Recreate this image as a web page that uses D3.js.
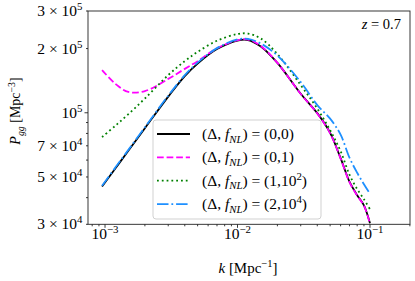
<!DOCTYPE html>
<html><head><meta charset="utf-8">
<script src="https://cdn.jsdelivr.net/npm/d3@7"></script>
<style>
body{margin:0;background:#fff}
svg{display:block}
text{font-family:"Liberation Serif","Times New Roman",serif;fill:#000}
</style>
</head><body><svg id="c" width="415" height="281"></svg>
<script>
// ---- data ----
const kValues   = [0.00095, 0.0012, 0.0015, 0.002, 0.003, 0.004, 0.005, 0.007, 0.01, 0.012, 0.015, 0.02, 0.03, 0.04, 0.05, 0.06, 0.07, 0.08, 0.09, 0.1];
const p_0_0     = [45100, 54950, 66400, 84680, 119040, 148570, 170100, 198900, 218100, 219300, 204400, 171200, 122800, 99590, 80480, 61240, 47500, 41050, 36840, 30320];
const p_0_1     = [158500, 136550, 125140, 126350, 144150, 160600, 174600, 200500, 218800, 220500, 205500, 171500, 122500, 99300, 80200, 61000, 47300, 40900, 36700, 30200];
const p_1_1e2   = [76910, 87100, 98510, 116650, 150200, 174600, 193000, 217650, 233900, 235200, 222900, 188500, 134800, 104570, 82870, 66040, 51230, 43900, 39310, 35280];
const p_2_1e4   = [45500, 55500, 67000, 85500, 120300, 150000, 171800, 201000, 221000, 222000, 211100, 185450, 139250, 108600, 93840, 78940, 61570, 52350, 46230, 41720];

const seriesNames  = ["(0,0)", "(0,1)", "(1,10^2)", "(2,10^4)"];
const seriesColors = ["#000000", "#ff00ff", "#008000", "#1e90ff"];
const seriesDashes = [null, "6.7,2.9", "1.8,3.0", "11.5,2.9,1.8,2.9"];
const seriesValues = [p_0_0, p_0_1, p_1_1e2, p_2_1e4];

const xDomain = [7.44e-4, 0.2004];
const yDomain = [3e4, 3e5];
const xMajor = [1e-3, 1e-2, 1e-1];
const xMajorExp = ["\u22123", "\u22122", "\u22121"];
const xMinor = [8e-4, 9e-4, 2e-3, 3e-3, 4e-3, 5e-3, 6e-3, 7e-3, 8e-3, 9e-3, 2e-2, 3e-2, 4e-2, 5e-2, 6e-2, 7e-2, 8e-2, 9e-2, 2e-1];
const yMajor = [1e5];
const yMinor = [3e4, 4e4, 5e4, 6e4, 7e4, 8e4, 9e4, 2e5, 3e5];
const yLabelVals = [3e4, 5e4, 7e4, 1e5, 2e5, 3e5];
const yLabelMant = ["3", "5", "7", "", "2", "3"];
const yLabelExp  = ["4", "4", "4", "5", "5", "5"];

// ---- layout ----
const L = 88, R = 410, T = 11, B = 224.3;
const FS = 15.5;
const svg = d3.select("#c");
const x = d3.scaleLog().domain(xDomain).range([L, R]);
const y = d3.scaleLog().domain(yDomain).range([B, T]);

svg.append("defs").append("clipPath").attr("id","clip")
  .append("rect").attr("x",L).attr("y",T).attr("width",R-L).attr("height",B-T);

const line = d3.line().x(d => x(d[0])).y(d => y(d[1])).curve(d3.curveCatmullRom.alpha(0.5));
const g = svg.append("g").attr("clip-path","url(#clip)");
seriesValues.forEach((vals, i) => {
  const pts = kValues.map((k, j) => [k, vals[j]]);
  g.append("path").attr("d", line(pts)).attr("fill","none")
    .attr("stroke", seriesColors[i]).attr("stroke-width", 1.8)
    .attr("stroke-dasharray", seriesDashes[i])
    .attr("stroke-linejoin","round");
});

svg.append("rect").attr("x",L).attr("y",T).attr("width",R-L).attr("height",B-T)
  .attr("fill","none").attr("stroke","#222").attr("stroke-width",0.9);

const axG = svg.append("g").attr("stroke","#222").attr("stroke-width",0.9);
xMajor.forEach(v => axG.append("line").attr("x1",x(v)).attr("x2",x(v)).attr("y1",B).attr("y2",B+3.5));
xMinor.forEach(v => axG.append("line").attr("x1",x(v)).attr("x2",x(v)).attr("y1",B).attr("y2",B+2));
yMajor.forEach(v => axG.append("line").attr("x1",L).attr("x2",L-3.5).attr("y1",y(v)).attr("y2",y(v)));
yMinor.forEach(v => axG.append("line").attr("x1",L).attr("x2",L-2).attr("y1",y(v)).attr("y2",y(v)));

xMajor.forEach((v, i) => {
  const t = svg.append("text").attr("x", x(v)).attr("y", 238.5).attr("text-anchor","middle").attr("font-size", FS);
  t.append("tspan").text("10");
  t.append("tspan").attr("dy", -6).attr("font-size", FS*0.7).text(xMajorExp[i]);
});

yLabelVals.forEach((v, i) => {
  const t = svg.append("text").attr("x", L - 5.5).attr("y", y(v) + 5).attr("text-anchor","end").attr("font-size", FS);
  t.append("tspan").text((yLabelMant[i] ? yLabelMant[i] + " \u00d7 " : "") + "10");
  t.append("tspan").attr("dy", -6).attr("font-size", FS*0.7).text(yLabelExp[i]);
});

const xl = svg.append("text").attr("x", 248).attr("y", 273).attr("text-anchor","middle").attr("font-size", 15);
xl.append("tspan").attr("font-style","italic").text("k");
xl.append("tspan").text(" [Mpc");
xl.append("tspan").attr("dy",-6).attr("font-size",15*0.7).text("\u22121");
xl.append("tspan").attr("dy",6).text("]");

const yl = svg.append("text").attr("transform",`translate(20,111) rotate(-90)`).attr("text-anchor","middle").attr("font-size", 14);
yl.append("tspan").attr("font-style","italic").text("P");
yl.append("tspan").attr("font-style","italic").attr("dy",3.5).attr("font-size",14*0.7).text("gg");
yl.append("tspan").attr("dy",-3.5).text(" [Mpc");
yl.append("tspan").attr("dy",-5.5).attr("font-size",14*0.7).text("\u22123");
yl.append("tspan").attr("dy",5.5).text("]");

const zl = svg.append("text").attr("x", 401).attr("y", 29).attr("text-anchor","end").attr("font-size", 14.5);
zl.append("tspan").attr("font-style","italic").text("z");
zl.append("tspan").text(" = 0.7");

const lg = svg.append("g");
lg.append("rect").attr("x",153).attr("y",120).attr("width",168).attr("height",99).attr("rx",3)
  .attr("fill","#fff").attr("fill-opacity",0.8).attr("stroke","#cccccc").attr("stroke-width",0.9);
seriesNames.forEach((name, i) => {
  const cy = 134 + i * 23.35;
  lg.append("line").attr("x1",157).attr("x2",190).attr("y1",cy).attr("y2",cy)
    .attr("stroke",seriesColors[i]).attr("stroke-width",1.8).attr("stroke-dasharray",seriesDashes[i]);
  const t = lg.append("text").attr("x",202).attr("y",cy+5).attr("font-size",FS);
  t.append("tspan").text("(\u0394, ");
  t.append("tspan").attr("font-style","italic").text("f");
  t.append("tspan").attr("font-style","italic").attr("dy",3.5).attr("font-size",FS*0.7).text("NL");
  const parts = name.split("^");
  t.append("tspan").attr("dy",-3.5).text(") = " + parts[0]);
  if (parts.length > 1) {
    const ex = parts[1].replace(")", "");
    t.append("tspan").attr("dy",-6).attr("font-size",FS*0.7).text(ex);
    t.append("tspan").attr("dy",6).text(")");
  }
});
</script></body></html>
